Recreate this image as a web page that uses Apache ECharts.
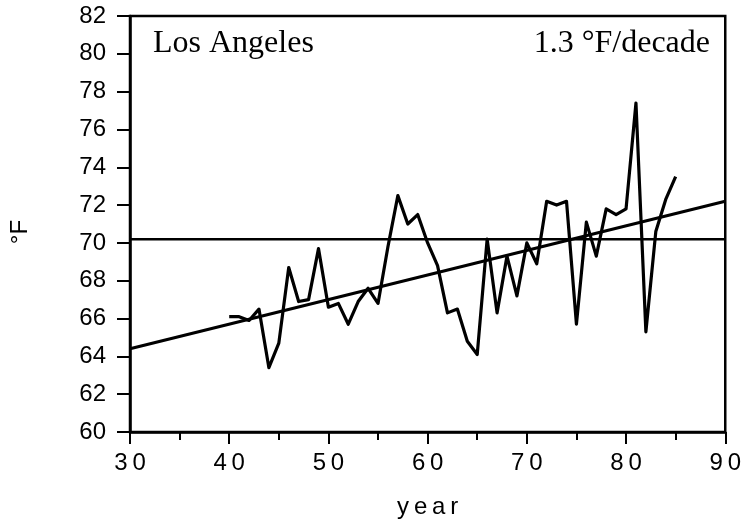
<!DOCTYPE html>
<html>
<head>
<meta charset="utf-8">
<script src="https://cdn.jsdelivr.net/npm/echarts@6/dist/echarts.min.js"></script>
<style>html,body{margin:0;padding:0;background:#fff}#c{width:744px;height:526px}</style>
</head>
<body>
<div id="c"></div>
<script>
var years = [40,41,42,43,44,45,46,47,48,49,50,51,52,53,54,55,56,57,58,59,60,61,62,63,64,65,66,67,68,69,70,71,72,73,74,75,76,77,78,79,80,81,82,83,84,85];
var temps = [66.1,66.1,65.9,66.5,63.4,64.7,68.7,66.9,67.0,69.7,66.6,66.8,65.7,66.9,67.6,66.8,69.8,72.5,71.0,71.5,70.0,68.8,66.3,66.5,64.8,64.1,70.2,66.3,69.3,67.2,70.0,68.9,72.2,72.0,72.2,65.7,71.1,69.3,71.8,71.5,71.8,77.4,65.3,70.6,72.3,73.5];
var meanLevel = 70.2;
var trendX = [30, 90];
var trendY = [64.4, 72.2];
var xTicks = [30,40,50,60,70,80,90];
var yTicks = [60,62,64,66,68,70,72,74,76,78,80,82];
var cityLabel = 'Los Angeles';
var rateLabel = '1.3 °F/decade';
var xName = 'year';
var yName = '°F';

var chart = echarts.init(document.getElementById('c'), null, {renderer:'canvas'});
var dataPts = years.map(function(y,i){return [y,temps[i]];});
var trendPts = trendX.map(function(x,i){return [x,trendY[i]];});
var meanPts = [[xTicks[0], meanLevel],[xTicks[xTicks.length-1], meanLevel]];
var sans = 'Liberation Sans, Arial, sans-serif';
var serif = 'Liberation Serif, Times New Roman, serif';
function spaced(s){return String(s).split('').join('\u2009');}
chart.setOption({
  animation:false,
  backgroundColor:'#fff',
  title:[
    {text:cityLabel, left:148, top:23, textStyle:{fontFamily:serif, fontSize:32, fontWeight:'normal', color:'#000'}},
    {text:rateLabel, right:29, top:23, textStyle:{fontFamily:serif, fontSize:32, fontWeight:'normal', color:'#000'}}
  ],
  grid:{left:128, right:16, top:16, bottom:94, show:true, borderColor:'#000', borderWidth:2.5, containLabel:false},
  xAxis:{
    type:'value', min:xTicks[0], max:xTicks[xTicks.length-1], interval:10,
    name:spaced(xName), nameLocation:'middle', nameGap:63,
    nameTextStyle:{fontFamily:sans, fontSize:24, color:'#000'},
    axisLine:{show:true, onZero:false, lineStyle:{color:'#000', width:2.5}},
    axisTick:{show:true, inside:false, length:12, lineStyle:{color:'#000', width:2}},
    minorTick:{show:true, splitNumber:2, length:8, lineStyle:{color:'#000', width:2}},
    axisLabel:{margin:19, fontFamily:sans, fontSize:24, color:'#000', formatter:function(v){return spaced(v);}},
    splitLine:{show:false}
  },
  yAxis:{
    type:'value', min:yTicks[0], max:yTicks[yTicks.length-1], interval:2,
    name:yName, nameLocation:'middle', nameGap:98, nameRotate:90,
    nameTextStyle:{fontFamily:sans, fontSize:24, color:'#000', padding:[0,16,0,0]},
    axisLine:{show:true, onZero:false, lineStyle:{color:'#000', width:2.5}},
    axisTick:{show:true, inside:false, length:13, lineStyle:{color:'#000', width:2}},
    axisLabel:{margin:24, fontFamily:sans, fontSize:24, color:'#000'},
    splitLine:{show:false}
  },
  series:[
    {type:'line', data:meanPts, showSymbol:false, lineStyle:{color:'#000', width:2.5}, z:2},
    {type:'line', data:trendPts, showSymbol:false, lineStyle:{color:'#000', width:3}, z:3},
    {type:'line', data:dataPts, showSymbol:false, lineStyle:{color:'#000', width:3.2, join:'round'}, z:4}
  ]
});
</script>
</body>
</html>
